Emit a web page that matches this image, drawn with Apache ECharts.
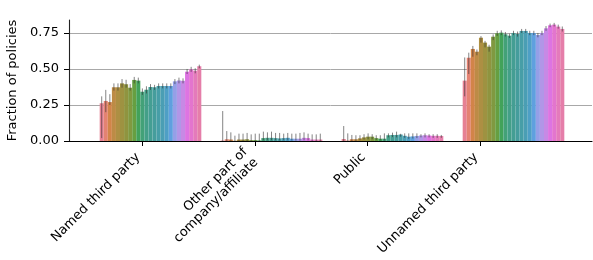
<!DOCTYPE html>
<html>
<head>
<meta charset="utf-8">
<script src="https://cdn.jsdelivr.net/npm/echarts@6/dist/echarts.min.js"></script>
<style>
  html, body { margin: 0; padding: 0; background: #fff; }
  #chart { width: 593px; height: 260px; }
</style>
</head>
<body>
<div id="chart"></div>
<script>
// categories and tick labels
var categories = ['Named third party', 'Other part of\ncompany/affiliate', 'Public', 'Unnamed third party'];
var yTicks = [0, 0.25, 0.5, 0.75];

// one value per hue level (25 levels), per category
var named     = [0.262, 0.278, 0.27, 0.373, 0.373, 0.40, 0.394, 0.37, 0.424, 0.419, 0.342, 0.356, 0.375, 0.373, 0.382, 0.382, 0.382, 0.382, 0.414, 0.42, 0.418, 0.481, 0.498, 0.488, 0.519];
var namedLo   = [0.02, 0.20, 0.25, 0.35, 0.35, 0.37, 0.37, 0.35, 0.40, 0.40, 0.32, 0.33, 0.355, 0.355, 0.365, 0.365, 0.365, 0.365, 0.395, 0.40, 0.40, 0.465, 0.48, 0.47, 0.505];
var namedHi   = [0.31, 0.355, 0.325, 0.40, 0.40, 0.43, 0.425, 0.395, 0.445, 0.44, 0.365, 0.38, 0.395, 0.39, 0.40, 0.40, 0.40, 0.40, 0.43, 0.44, 0.435, 0.50, 0.515, 0.505, 0.53];

var other     = [0.003, 0.012, 0.01, 0.002, 0.01, 0.01, 0.012, 0.006, 0.006, 0.004, 0.02, 0.022, 0.022, 0.02, 0.018, 0.02, 0.022, 0.016, 0.016, 0.016, 0.022, 0.02, 0.01, 0.01, 0.01];
var otherLo   = [0, 0, 0, 0, 0, 0, 0, 0, 0, 0, 0.005, 0.005, 0.005, 0.005, 0.004, 0.005, 0.005, 0.003, 0.003, 0.003, 0.005, 0.005, 0, 0, 0];
var otherHi   = [0.208, 0.069, 0.06, 0.037, 0.051, 0.051, 0.056, 0.046, 0.051, 0.051, 0.065, 0.06, 0.065, 0.056, 0.056, 0.051, 0.056, 0.051, 0.051, 0.056, 0.06, 0.051, 0.046, 0.046, 0.051];

var pub       = [0.014, 0.003, 0.012, 0.012, 0.018, 0.025, 0.03, 0.03, 0.02, 0.016, 0.016, 0.04, 0.042, 0.042, 0.045, 0.036, 0.03, 0.032, 0.035, 0.038, 0.04, 0.038, 0.036, 0.036, 0.035];
var pubLo     = [0, 0, 0, 0, 0.005, 0.01, 0.012, 0.012, 0.006, 0.004, 0.003, 0.025, 0.027, 0.025, 0.03, 0.022, 0.015, 0.017, 0.02, 0.025, 0.025, 0.025, 0.022, 0.022, 0.022];
var pubHi     = [0.104, 0.053, 0.042, 0.04, 0.04, 0.047, 0.053, 0.047, 0.04, 0.04, 0.053, 0.053, 0.058, 0.065, 0.05, 0.053, 0.053, 0.053, 0.053, 0.047, 0.053, 0.047, 0.047, 0.047, 0.042];

var unnamed   = [0.419, 0.578, 0.639, 0.62, 0.717, 0.683, 0.655, 0.724, 0.748, 0.752, 0.741, 0.731, 0.75, 0.743, 0.764, 0.764, 0.75, 0.75, 0.736, 0.75, 0.782, 0.803, 0.808, 0.794, 0.778];
var unnamedLo = [0.31, 0.465, 0.585, 0.595, 0.683, 0.65, 0.62, 0.70, 0.73, 0.735, 0.725, 0.715, 0.735, 0.725, 0.75, 0.75, 0.735, 0.735, 0.72, 0.735, 0.765, 0.79, 0.795, 0.78, 0.76];
var unnamedHi = [0.58, 0.613, 0.66, 0.635, 0.728, 0.695, 0.668, 0.74, 0.765, 0.768, 0.757, 0.745, 0.765, 0.76, 0.778, 0.778, 0.765, 0.765, 0.75, 0.765, 0.798, 0.815, 0.82, 0.808, 0.795];

var values = [named, other, pub, unnamed];
var lows = [namedLo, otherLo, pubLo, unnamedLo];
var highs = [namedHi, otherHi, pubHi, unnamedHi];
var nHue = named.length;
var catGap = 0.16;

// seaborn husl palette, desaturated like barplot does (0.75)
function huslToRgb(h, s, l) {
  var M = [[3.2406, -1.5372, -0.4986], [-0.9689, 1.8758, 0.0415], [0.0557, -0.2040, 1.0570]];
  var kappa = 903.2962962, eps = 0.0088564516, refU = 0.19784, refV = 0.46834;
  var hr = h / 180 * Math.PI, sinH = Math.sin(hr), cosH = Math.cos(hr);
  var sub1 = Math.pow(l + 16, 3) / 1560896;
  var sub2 = sub1 > eps ? sub1 : l / kappa;
  var maxC = Infinity;
  M.forEach(function (m) {
    var top = (0.99915 * m[0] + 1.05122 * m[1] + 1.14460 * m[2]) * sub2;
    var rb = 0.86330 * m[2] - 0.17266 * m[1];
    var lb = 0.12949 * m[2] - 0.38848 * m[0];
    var bottom = (rb * sinH + lb * cosH) * sub2;
    [0, 1].forEach(function (t) {
      var c = l * (top - 1.05122 * t) / (bottom + 0.17266 * sinH * t);
      if (c > 0 && c < maxC) maxC = c;
    });
  });
  var C = maxC / 100 * s;
  var U = C * cosH, V = C * sinH;
  var t = (l + 16) / 116;
  var Y = t * t * t > eps ? t * t * t : (116 * t - 16) / kappa;
  var vu = U / (13 * l) + refU, vv = V / (13 * l) + refV;
  var X = -(9 * Y * vu) / ((vu - 4) * vv - vu * vv);
  var Z = (9 * Y - 15 * vv * Y - vv * X) / (3 * vv);
  return M.map(function (m) {
    var c = m[0] * X + m[1] * Y + m[2] * Z;
    c = c <= 0.0031308 ? 12.92 * c : 1.055 * Math.pow(c, 1 / 2.4) - 0.055;
    return Math.min(1, Math.max(0, c));
  });
}
function desaturate(rgb, prop) {
  var r = rgb[0], g = rgb[1], b = rgb[2];
  var mx = Math.max(r, g, b), mn = Math.min(r, g, b);
  var l = (mx + mn) / 2, h = 0, s = 0;
  if (mx !== mn) {
    var d = mx - mn;
    s = l <= 0.5 ? d / (mx + mn) : d / (2 - mx - mn);
    if (mx === r) h = (g - b) / d;
    else if (mx === g) h = 2 + (b - r) / d;
    else h = 4 + (r - g) / d;
    h = ((h / 6) % 1 + 1) % 1;
  }
  s *= prop;
  function v(m1, m2, hue) {
    hue = ((hue % 1) + 1) % 1;
    if (hue < 1 / 6) return m1 + (m2 - m1) * hue * 6;
    if (hue < 0.5) return m2;
    if (hue < 2 / 3) return m1 + (m2 - m1) * (2 / 3 - hue) * 6;
    return m1;
  }
  var m2 = l <= 0.5 ? l * (1 + s) : l + s - l * s;
  var m1 = 2 * l - m2;
  return [v(m1, m2, h + 1 / 3), v(m1, m2, h), v(m1, m2, h - 1 / 3)];
}
function toHex(rgb) {
  return '#' + rgb.map(function (c) {
    var n = Math.round(c * 255);
    return (n < 16 ? '0' : '') + n.toString(16);
  }).join('');
}
var palette = [];
for (var i = 0; i < nHue; i++) {
  var h = ((i / nHue) + 0.01) % 1;
  palette.push(toHex(desaturate(huslToRgb(h * 359, 0.9 * 99, 0.65 * 99), 0.75)));
}

var font = 'DejaVu Sans';
var series = [];
for (var k = 0; k < nHue; k++) {
  series.push({
    type: 'bar',
    xAxisIndex: 2,
    yAxisIndex: 2,
    barGap: '0%',
    barCategoryGap: (catGap * 100) + '%',
    itemStyle: { color: palette[k] },
    silent: true,
    data: values.map(function (v) { return v[k]; })
  });
}

var errData = [];
for (var c = 0; c < categories.length; c++) {
  for (var k2 = 0; k2 < nHue; k2++) {
    errData.push([c, k2, lows[c][k2], highs[c][k2]]);
  }
}
series.push({
  type: 'custom',
  xAxisIndex: 2,
  yAxisIndex: 2,
  z: 5,
  silent: true,
  encode: { x: 0, y: [2, 3] },
  data: errData,
  renderItem: function (params, api) {
    var band = api.size([1, 0])[0];
    var bw = band * (1 - catGap) / nHue;
    var dx = (api.value(1) - (nHue - 1) / 2) * bw;
    var p1 = api.coord([api.value(0), api.value(2)]);
    var p2 = api.coord([api.value(0), api.value(3)]);
    return {
      type: 'line',
      shape: { x1: p1[0] + dx, y1: p1[1], x2: p2[0] + dx, y2: p2[1] },
      style: { stroke: 'rgba(50,50,50,0.6)', lineWidth: 1 }
    };
  }
});

var chart = echarts.init(document.getElementById('chart'), null, { renderer: 'canvas' });
chart.setOption({
  animation: false,
  backgroundColor: '#fff',
  textStyle: { fontFamily: font },
  grid: [
    { left: 69, right: 1, top: 20, bottom: 119, outerBoundsMode: 'none' },     // spines and labels
    { left: 69, right: 1, top: -17.4, bottom: 119, outerBoundsMode: 'none' },  // grid lines
    { left: 90, right: 19, top: 20, bottom: 119, outerBoundsMode: 'none' }     // bars
  ],
  xAxis: [
    {
      gridIndex: 0, type: 'value', min: -0.65, max: 3.99,
      axisLine: { onZero: false, lineStyle: { color: '#000', width: 1.1 } },
      axisTick: { show: true, length: 5, customValues: [0, 1, 2, 3], lineStyle: { color: '#000' } },
      axisLabel: {
        customValues: [0, 1, 2, 3],
        rotate: 45, margin: 10, padding: [0, 6, 0, 0],
        fontSize: 13, color: '#000', fontFamily: font, lineHeight: 15,
        formatter: function (v) { return categories[Math.round(v)]; }
      },
      splitLine: { show: false }
    },
    {
      gridIndex: 1, type: 'value', min: 0, max: 1, show: false, splitLine: { show: false }
    },
    {
      gridIndex: 2, type: 'category', data: categories, show: false
    }
  ],
  yAxis: [
    {
      gridIndex: 0, type: 'value', min: 0, max: 0.84,
      name: 'Fraction of policies', nameLocation: 'middle', nameGap: 42,
      nameTextStyle: { fontSize: 13, color: '#000', fontFamily: font },
      axisLine: { show: true, onZero: false, lineStyle: { color: '#222', width: 1.1 } },
      axisTick: { show: true, length: 5, customValues: yTicks, lineStyle: { color: '#000' } },
      axisLabel: {
        customValues: yTicks, margin: 10, fontSize: 13, color: '#000', fontFamily: font,
        formatter: function (v) { return v.toFixed(2); }
      },
      splitLine: { show: false }
    },
    {
      gridIndex: 1, type: 'value', min: 0, max: 1.1, interval: 0.25,
      axisLine: { show: false }, axisTick: { show: false }, axisLabel: { show: false },
      splitLine: { show: true, lineStyle: { color: '#a8a8a8', width: 1 } }
    },
    {
      gridIndex: 2, type: 'value', min: 0, max: 0.84, show: false, splitLine: { show: false }
    }
  ],
  series: series
});
</script>
</body>
</html>
